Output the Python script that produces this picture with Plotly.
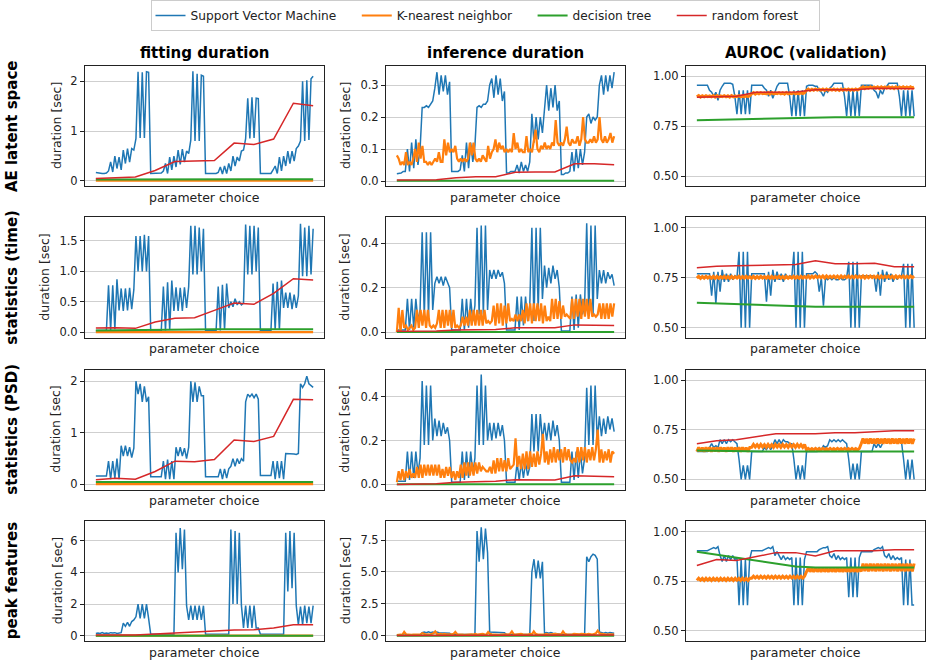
import numpy as np
import plotly.graph_objects as go
from plotly.subplots import make_subplots

# ---------------------------------------------------------------- labels
model_names = ["Support Vector Machine", "K-nearest neighbor", "decision tree", "random forest"]
model_colors = ["#1f77b4", "#ff7f0e", "#2ca02c", "#d62728"]
feature_sets = ["AE latent space", "statistics (time)", "statistics (PSD)", "peak features"]
metrics = ["fitting duration", "inference duration", "AUROC (validation)"]
x_label = "parameter choice"
y_label = "duration [sec]"

# ---------------------------------------------------------------- AE latent space
svm_fit_ae = [
    0.17, 0.16, 0.15, 0.15, 0.15, 0.16, 0.2, 0.38, 0.18, 0.5, 0.25, 0.48, 0.22, 0.62, 0.35, 0.65, 0.38, 0.65, 0.62, 0.85, 2.19, 0.86, 2.18, 0.86, 2.19, 2.18,
    0.15, 0.15, 0.15, 0.15, 0.15, 0.16, 0.2, 0.35, 0.15, 0.48, 0.22, 0.5, 0.28, 0.62, 0.33, 0.64, 0.38, 0.6, 0.55, 0.82, 2.2, 0.8, 2.15, 0.8, 2.12, 2.1,
    0.15, 0.15, 0.15, 0.16, 0.15, 0.15, 0.17, 0.28, 0.14, 0.3, 0.15, 0.35, 0.2, 0.5, 0.3, 0.48, 0.4, 0.6, 0.62, 0.85, 1.66, 0.85, 1.68, 0.86, 1.66, 1.65,
    0.15, 0.15, 0.15, 0.15, 0.16, 0.15, 0.22, 0.3, 0.15, 0.48, 0.2, 0.5, 0.3, 0.6, 0.35, 0.6, 0.4, 0.65, 0.7, 0.8, 2.0, 0.8, 2.02, 0.82, 2.05, 2.1,
]
knn_fit_ae = [0.004, 0.005, 0.004, 0.006, 0.005, 0.004, 0.005, 0.006, 0.004, 0.005,
              0.005, 0.006, 0.004, 0.005, 0.006, 0.005, 0.004, 0.006, 0.005, 0.005,
              0.006, 0.005, 0.004, 0.006, 0.005, 0.006, 0.005, 0.004, 0.006, 0.005]
dt_fit_ae = [0.03, 0.03, 0.031, 0.031, 0.032, 0.032, 0.032, 0.033, 0.033, 0.033, 0.033, 0.033]
rf_fit_ae = [0.05, 0.07, 0.08, 0.21, 0.39, 0.40, 0.41, 0.76, 0.73, 0.84, 1.56, 1.51]

svm_inf_ae = [
    0.023, 0.025, 0.025, 0.03, 0.03, 0.1, 0.03, 0.12, 0.04, 0.13, 0.05, 0.1, 0.23, 0.23, 0.235, 0.23, 0.24, 0.25, 0.29, 0.34, 0.27, 0.33, 0.28, 0.33, 0.27, 0.31,
    0.03, 0.03, 0.03, 0.03, 0.035, 0.08, 0.03, 0.12, 0.04, 0.12, 0.06, 0.11, 0.23, 0.235, 0.23, 0.24, 0.24, 0.25, 0.3, 0.32, 0.26, 0.33, 0.27, 0.32, 0.25, 0.28,
    0.025, 0.025, 0.03, 0.03, 0.03, 0.05, 0.025, 0.06, 0.03, 0.05, 0.03, 0.06, 0.21, 0.12, 0.2, 0.13, 0.2, 0.15, 0.22, 0.3, 0.22, 0.29, 0.23, 0.3, 0.22, 0.25,
    0.02, 0.02, 0.025, 0.025, 0.03, 0.09, 0.03, 0.1, 0.04, 0.1, 0.05, 0.09, 0.2, 0.21, 0.18, 0.2, 0.19, 0.2, 0.3, 0.33, 0.27, 0.33, 0.28, 0.33, 0.29, 0.34,
]
knn_inf_ae = [
    0.08, 0.07, 0.05, 0.06, 0.05, 0.09, 0.05, 0.06, 0.05, 0.07,
    0.1, 0.06, 0.12, 0.07, 0.11, 0.06, 0.06, 0.05, 0.06, 0.05,
    0.06, 0.07, 0.06, 0.09, 0.06, 0.06, 0.13, 0.08, 0.12, 0.09,
    0.1, 0.09, 0.11, 0.07, 0.06, 0.07, 0.06, 0.07, 0.06, 0.07,
    0.12, 0.08, 0.12, 0.07, 0.06, 0.07, 0.06, 0.08, 0.07, 0.06,
    0.11, 0.07, 0.09, 0.1, 0.13, 0.09, 0.12, 0.1, 0.11, 0.09,
    0.1, 0.09, 0.1, 0.09, 0.15, 0.1, 0.12, 0.09, 0.1, 0.09,
    0.09, 0.14, 0.09, 0.1, 0.09, 0.12, 0.16, 0.1, 0.09, 0.11,
    0.1, 0.12, 0.1, 0.11, 0.1, 0.12, 0.11, 0.19, 0.12, 0.11,
    0.12, 0.11, 0.13, 0.17, 0.12, 0.11, 0.13, 0.12, 0.12, 0.14,
    0.11, 0.13, 0.2, 0.13, 0.12, 0.12, 0.13, 0.12, 0.14, 0.12,
    0.13, 0.2, 0.13, 0.12, 0.14, 0.12, 0.13, 0.15, 0.12, 0.14,
]
dt_inf_ae = [0.001, 0.001, 0.001, 0.001, 0.001, 0.001, 0.001, 0.001, 0.001, 0.001, 0.001, 0.001]
rf_inf_ae = [0.003, 0.003, 0.004, 0.01, 0.013, 0.013, 0.027, 0.028, 0.028, 0.054, 0.054, 0.051]

svm_auc_ae = [
    0.955, 0.955, 0.955, 0.955, 0.955, 0.955, 0.93, 0.92, 0.9, 0.92, 0.88, 0.93, 0.95, 0.965, 0.965, 0.965, 0.965, 0.96, 0.9, 0.81, 0.93, 0.81, 0.93, 0.81, 0.93, 0.81,
    0.955, 0.955, 0.955, 0.955, 0.955, 0.955, 0.94, 0.93, 0.9, 0.93, 0.89, 0.92, 0.95, 0.965, 0.965, 0.965, 0.965, 0.965, 0.9, 0.8, 0.93, 0.8, 0.93, 0.8, 0.93, 0.8,
    0.95, 0.955, 0.955, 0.955, 0.95, 0.95, 0.93, 0.92, 0.9, 0.93, 0.92, 0.94, 0.95, 0.965, 0.965, 0.965, 0.965, 0.965, 0.9, 0.8, 0.93, 0.8, 0.93, 0.8, 0.93, 0.8,
    0.955, 0.955, 0.955, 0.955, 0.955, 0.955, 0.93, 0.92, 0.89, 0.93, 0.91, 0.94, 0.95, 0.965, 0.965, 0.965, 0.965, 0.965, 0.9, 0.8, 0.93, 0.8, 0.93, 0.8, 0.93, 0.8,
]
knn_auc_ae = [
    0.897, 0.903, 0.896, 0.902, 0.897, 0.903, 0.898, 0.902, 0.897, 0.903, 0.896, 0.903, 0.897, 0.902, 0.898,
    0.903, 0.897, 0.902, 0.896, 0.903, 0.897, 0.902, 0.898, 0.903, 0.897, 0.902, 0.897, 0.903, 0.898, 0.902,
    0.912, 0.918, 0.911, 0.917, 0.912, 0.918, 0.913, 0.917, 0.912, 0.918, 0.911, 0.918, 0.912, 0.917, 0.913,
    0.918, 0.912, 0.917, 0.911, 0.918, 0.912, 0.917, 0.913, 0.918, 0.912, 0.917, 0.912, 0.918, 0.913, 0.917,
    0.930, 0.936, 0.929, 0.935, 0.930, 0.936, 0.931, 0.935, 0.930, 0.936, 0.929, 0.936, 0.930, 0.935, 0.931,
    0.936, 0.930, 0.935, 0.929, 0.936, 0.930, 0.935, 0.931, 0.936, 0.930, 0.935, 0.930, 0.936, 0.931, 0.935,
    0.940, 0.947, 0.939, 0.946, 0.940, 0.947, 0.941, 0.946, 0.940, 0.947, 0.939, 0.947, 0.940, 0.946, 0.941,
    0.947, 0.940, 0.946, 0.939, 0.947, 0.940, 0.946, 0.941, 0.947, 0.940, 0.946, 0.940, 0.947, 0.941, 0.946,
]
dt_auc_ae = [0.78, 0.782, 0.785, 0.787, 0.79, 0.793, 0.795, 0.795, 0.795, 0.795, 0.795, 0.795]
rf_auc_ae = [0.895, 0.898, 0.9, 0.92, 0.92, 0.921, 0.932, 0.933, 0.932, 0.94, 0.937, 0.937]

# ---------------------------------------------------------------- statistics (time)
svm_fit_time = [
    0.03, 0.03, 0.03, 0.03, 0.03, 0.03, 0.77, 0.04, 0.77, 0.05, 0.87, 0.36, 0.72, 0.35, 0.72, 0.36, 0.73, 0.38, 0.7, 1.58, 1.0, 1.58, 1.0, 1.6, 1.0, 1.58,
    0.02, 0.02, 0.02, 0.02, 0.02, 0.02, 0.75, 0.03, 0.82, 0.04, 0.85, 0.35, 0.74, 0.35, 0.73, 0.35, 0.74, 0.4, 0.75, 1.75, 0.95, 1.75, 0.95, 1.72, 1.0, 1.7,
    0.03, 0.03, 0.03, 0.03, 0.03, 0.03, 0.75, 0.03, 0.78, 0.04, 0.8, 0.4, 0.5, 0.42, 0.55, 0.45, 0.5, 0.45, 0.48, 1.77, 0.95, 1.75, 0.95, 1.75, 1.0, 1.72,
    0.03, 0.03, 0.03, 0.03, 0.03, 0.03, 0.8, 0.04, 0.83, 0.04, 0.85, 0.4, 0.65, 0.4, 0.65, 0.38, 0.62, 0.4, 0.6, 1.78, 0.92, 1.72, 0.92, 1.75, 0.95, 1.7,
]
knn_fit_time = [0.002, 0.003, 0.002, 0.004, 0.003, 0.002, 0.003, 0.004, 0.002, 0.003,
                0.003, 0.004, 0.002, 0.003, 0.004, 0.003, 0.002, 0.004, 0.003, 0.003,
                0.004, 0.003, 0.002, 0.004, 0.003, 0.004, 0.003, 0.002, 0.004, 0.003]
dt_fit_time = [0.03, 0.035, 0.04, 0.045, 0.05, 0.05, 0.05, 0.05, 0.05, 0.05, 0.05, 0.05]
rf_fit_time = [0.07, 0.075, 0.065, 0.17, 0.23, 0.24, 0.36, 0.48, 0.46, 0.64, 0.88, 0.86]

svm_inf_time = [
    0.01, 0.01, 0.01, 0.01, 0.01, 0.15, 0.01, 0.15, 0.02, 0.15, 0.05, 0.1, 0.45, 0.07, 0.45, 0.07, 0.45, 0.1, 0.22, 0.25, 0.22, 0.25, 0.21, 0.25, 0.22, 0.2,
    0.01, 0.01, 0.01, 0.01, 0.01, 0.15, 0.01, 0.15, 0.02, 0.15, 0.05, 0.12, 0.47, 0.08, 0.48, 0.08, 0.48, 0.1, 0.28, 0.24, 0.28, 0.24, 0.28, 0.25, 0.27, 0.22,
    0.01, 0.01, 0.01, 0.01, 0.01, 0.16, 0.01, 0.16, 0.03, 0.16, 0.05, 0.12, 0.47, 0.05, 0.47, 0.1, 0.47, 0.15, 0.3, 0.2, 0.29, 0.22, 0.3, 0.24, 0.28, 0.2,
    0.005, 0.005, 0.005, 0.005, 0.005, 0.16, 0.01, 0.17, 0.02, 0.17, 0.08, 0.12, 0.49, 0.08, 0.48, 0.08, 0.48, 0.15, 0.28, 0.22, 0.28, 0.22, 0.27, 0.24, 0.26, 0.21,
]
knn_inf_time = [
    0.0, 0.11, 0.0, 0.1, 0.02, 0.03, 0.01, 0.02, 0.03, 0.01,
    0.02, 0.1, 0.02, 0.1, 0.03, 0.1, 0.02, 0.1, 0.03, 0.02,
    0.03, 0.02, 0.04, 0.1, 0.02, 0.1, 0.02, 0.1, 0.03, 0.1,
    0.02, 0.1, 0.02, 0.03, 0.02, 0.03, 0.07, 0.03, 0.07, 0.03,
    0.1, 0.03, 0.1, 0.03, 0.1, 0.03, 0.1, 0.03, 0.1, 0.04,
    0.05, 0.04, 0.05, 0.12, 0.03, 0.13, 0.04, 0.13, 0.03, 0.12,
    0.04, 0.13, 0.05, 0.06, 0.05, 0.08, 0.05, 0.08, 0.05, 0.1,
    0.04, 0.13, 0.05, 0.13, 0.04, 0.13, 0.05, 0.13, 0.05, 0.13,
    0.04, 0.12, 0.05, 0.07, 0.05, 0.15, 0.06, 0.15, 0.06, 0.14,
    0.06, 0.12, 0.07, 0.08, 0.07, 0.06, 0.15, 0.06, 0.15, 0.07,
    0.15, 0.06, 0.15, 0.07, 0.15, 0.06, 0.15, 0.07, 0.08, 0.07,
    0.08, 0.13, 0.06, 0.13, 0.06, 0.13, 0.06, 0.13, 0.07, 0.13,
]
dt_inf_time = [0.001, 0.001, 0.001, 0.001, 0.001, 0.001, 0.001, 0.001, 0.001, 0.001, 0.001, 0.001]
rf_inf_time = [0.004, 0.005, 0.005, 0.01, 0.012, 0.012, 0.02, 0.02, 0.02, 0.033, 0.032, 0.03]

svm_auc_time = [
    0.77, 0.77, 0.77, 0.77, 0.77, 0.77, 0.77, 0.66, 0.78, 0.62, 0.78, 0.68, 0.79, 0.73, 0.77, 0.73, 0.77, 0.74, 0.76, 0.75, 0.88, 0.5, 0.88, 0.5, 0.88, 0.5,
    0.77, 0.77, 0.77, 0.77, 0.77, 0.77, 0.77, 0.63, 0.78, 0.66, 0.79, 0.73, 0.78, 0.74, 0.77, 0.73, 0.77, 0.75, 0.76, 0.75, 0.88, 0.5, 0.88, 0.5, 0.88, 0.5,
    0.77, 0.77, 0.77, 0.77, 0.78, 0.77, 0.68, 0.75, 0.61, 0.75, 0.74, 0.75, 0.74, 0.75, 0.74, 0.74, 0.75, 0.74, 0.74, 0.75, 0.83, 0.5, 0.83, 0.5, 0.83, 0.5,
    0.76, 0.76, 0.76, 0.76, 0.76, 0.76, 0.76, 0.68, 0.78, 0.66, 0.79, 0.73, 0.78, 0.74, 0.77, 0.73, 0.76, 0.74, 0.76, 0.76, 0.82, 0.5, 0.82, 0.5, 0.82, 0.5,
]
knn_auc_time = [
    0.748, 0.757, 0.747, 0.756, 0.748, 0.757, 0.749, 0.756, 0.748, 0.757, 0.747, 0.757, 0.748, 0.756, 0.749,
    0.757, 0.748, 0.756, 0.747, 0.757, 0.748, 0.756, 0.749, 0.757, 0.748, 0.756, 0.748, 0.757, 0.749, 0.756,
    0.748, 0.757, 0.747, 0.756, 0.748, 0.757, 0.749, 0.756, 0.748, 0.757, 0.747, 0.757, 0.748, 0.756, 0.749,
    0.757, 0.748, 0.756, 0.747, 0.757, 0.748, 0.756, 0.749, 0.757, 0.748, 0.756, 0.748, 0.757, 0.749, 0.756,
    0.750, 0.759, 0.749, 0.758, 0.750, 0.759, 0.751, 0.758, 0.750, 0.759, 0.749, 0.759, 0.750, 0.758, 0.751,
    0.759, 0.750, 0.758, 0.749, 0.759, 0.750, 0.758, 0.751, 0.759, 0.750, 0.758, 0.750, 0.759, 0.751, 0.758,
    0.750, 0.759, 0.749, 0.758, 0.750, 0.759, 0.751, 0.758, 0.750, 0.759, 0.749, 0.759, 0.750, 0.758, 0.751,
    0.759, 0.750, 0.758, 0.749, 0.759, 0.750, 0.758, 0.751, 0.759, 0.750, 0.758, 0.750, 0.759, 0.751, 0.758,
]
dt_auc_time = [0.625, 0.622, 0.618, 0.615, 0.61, 0.607, 0.605, 0.605, 0.605, 0.605, 0.605, 0.605]
rf_auc_time = [0.8, 0.808, 0.81, 0.813, 0.815, 0.816, 0.835, 0.82, 0.82, 0.823, 0.805, 0.805]

# ---------------------------------------------------------------- statistics (PSD)
svm_fit_psd = [
    0.16, 0.16, 0.16, 0.16, 0.16, 0.16, 0.45, 0.1, 0.45, 0.12, 0.5, 0.1, 0.75, 0.55, 0.75, 0.55, 0.72, 0.52, 0.7, 2.0, 1.75, 1.95, 1.6, 1.9, 1.6, 1.7,
    0.15, 0.15, 0.15, 0.15, 0.15, 0.15, 0.45, 0.1, 0.48, 0.1, 0.45, 0.1, 0.72, 0.55, 0.72, 0.55, 0.7, 0.5, 0.72, 2.0, 1.6, 1.98, 1.6, 1.9, 1.72, 1.72,
    0.15, 0.15, 0.15, 0.15, 0.15, 0.15, 0.15, 0.3, 0.1, 0.3, 0.12, 0.3, 0.35, 0.5, 0.35, 0.5, 0.4, 0.5, 0.45, 1.6, 1.75, 1.7, 1.75, 1.68, 1.75, 1.65,
    0.17, 0.17, 0.17, 0.17, 0.17, 0.17, 0.45, 0.1, 0.45, 0.12, 0.45, 0.1, 0.6, 0.6, 0.6, 0.6, 0.59, 0.58, 0.6, 1.95, 1.88, 1.95, 2.1, 1.95, 1.92, 1.88,
]
knn_fit_psd = [0.003, 0.004, 0.003, 0.005, 0.004, 0.003, 0.004, 0.005, 0.003, 0.004,
               0.004, 0.005, 0.003, 0.004, 0.005, 0.004, 0.003, 0.005, 0.004, 0.004,
               0.005, 0.004, 0.003, 0.005, 0.004, 0.005, 0.004, 0.003, 0.005, 0.004]
dt_fit_psd = [0.045, 0.045, 0.046, 0.046, 0.046, 0.047, 0.047, 0.047, 0.047, 0.047, 0.047, 0.047]
rf_fit_psd = [0.09, 0.12, 0.1, 0.25, 0.45, 0.44, 0.48, 0.86, 0.83, 0.93, 1.65, 1.64]

svm_inf_psd = [
    0.015, 0.015, 0.015, 0.015, 0.015, 0.15, 0.02, 0.15, 0.03, 0.15, 0.05, 0.12, 0.47, 0.18, 0.45, 0.18, 0.45, 0.2, 0.3, 0.22, 0.29, 0.22, 0.28, 0.23, 0.26, 0.2,
    0.01, 0.01, 0.01, 0.01, 0.01, 0.15, 0.02, 0.15, 0.03, 0.15, 0.05, 0.12, 0.45, 0.18, 0.5, 0.18, 0.45, 0.2, 0.28, 0.2, 0.28, 0.21, 0.28, 0.22, 0.27, 0.2,
    0.01, 0.01, 0.01, 0.01, 0.01, 0.1, 0.02, 0.1, 0.03, 0.1, 0.04, 0.08, 0.32, 0.15, 0.32, 0.15, 0.32, 0.2, 0.28, 0.2, 0.28, 0.2, 0.29, 0.22, 0.27, 0.2,
    0.01, 0.01, 0.01, 0.01, 0.01, 0.15, 0.02, 0.15, 0.03, 0.15, 0.05, 0.12, 0.44, 0.18, 0.45, 0.18, 0.45, 0.2, 0.31, 0.22, 0.3, 0.23, 0.31, 0.25, 0.3, 0.24,
]
knn_inf_psd = [
    0.01, 0.06, 0.02, 0.07, 0.02, 0.06, 0.03, 0.07, 0.03, 0.05,
    0.03, 0.08, 0.03, 0.09, 0.03, 0.09, 0.04, 0.09, 0.04, 0.09,
    0.04, 0.09, 0.04, 0.09, 0.03, 0.07, 0.03, 0.08, 0.04, 0.08,
    0.03, 0.06, 0.02, 0.06, 0.03, 0.09, 0.03, 0.1, 0.04, 0.1,
    0.04, 0.1, 0.04, 0.1, 0.05, 0.1, 0.06, 0.08, 0.07, 0.06,
    0.06, 0.08, 0.05, 0.11, 0.05, 0.12, 0.06, 0.12, 0.06, 0.11,
    0.06, 0.12, 0.07, 0.08, 0.09, 0.21, 0.08, 0.13, 0.07, 0.14,
    0.07, 0.15, 0.07, 0.15, 0.08, 0.14, 0.08, 0.15, 0.09, 0.14,
    0.23, 0.1, 0.15, 0.09, 0.16, 0.1, 0.17, 0.1, 0.16, 0.11,
    0.16, 0.1, 0.17, 0.11, 0.16, 0.11, 0.1, 0.12, 0.1, 0.17,
    0.1, 0.17, 0.11, 0.17, 0.1, 0.16, 0.11, 0.17, 0.11, 0.16,
    0.25, 0.1, 0.16, 0.1, 0.15, 0.11, 0.16, 0.1, 0.15, 0.14,
]
dt_inf_psd = [0.001, 0.001, 0.001, 0.001, 0.001, 0.001, 0.001, 0.001, 0.001, 0.001, 0.001, 0.001]
rf_inf_psd = [0.0, 0.001, 0.003, 0.01, 0.013, 0.015, 0.022, 0.021, 0.02, 0.04, 0.038, 0.035]

svm_auc_psd = [
    0.64, 0.64, 0.64, 0.64, 0.64, 0.64, 0.66, 0.68, 0.66, 0.67, 0.66, 0.7, 0.68, 0.7, 0.68, 0.7, 0.69, 0.7, 0.69, 0.68, 0.6, 0.5, 0.57, 0.5, 0.57, 0.5,
    0.64, 0.64, 0.64, 0.64, 0.64, 0.64, 0.66, 0.65, 0.67, 0.65, 0.67, 0.7, 0.68, 0.7, 0.68, 0.7, 0.69, 0.69, 0.68, 0.68, 0.6, 0.5, 0.57, 0.5, 0.57, 0.5,
    0.64, 0.64, 0.64, 0.64, 0.64, 0.64, 0.66, 0.65, 0.67, 0.66, 0.67, 0.7, 0.69, 0.7, 0.69, 0.7, 0.69, 0.7, 0.69, 0.68, 0.6, 0.5, 0.58, 0.5, 0.58, 0.5,
    0.64, 0.64, 0.64, 0.64, 0.64, 0.64, 0.68, 0.66, 0.68, 0.66, 0.68, 0.7, 0.69, 0.7, 0.68, 0.7, 0.69, 0.7, 0.69, 0.69, 0.6, 0.5, 0.6, 0.5, 0.6, 0.5,
]
knn_auc_psd = [
    0.640, 0.661, 0.641, 0.660, 0.640, 0.662, 0.641, 0.661, 0.640, 0.660, 0.641, 0.662, 0.640, 0.661, 0.641,
    0.660, 0.640, 0.662, 0.641, 0.661, 0.640, 0.660, 0.641, 0.662, 0.640, 0.661, 0.641, 0.660, 0.640, 0.661,
    0.662, 0.676, 0.663, 0.675, 0.662, 0.676, 0.663, 0.675, 0.662, 0.676, 0.663, 0.675, 0.662, 0.676, 0.663,
    0.675, 0.662, 0.676, 0.663, 0.675, 0.662, 0.676, 0.663, 0.675, 0.662, 0.676, 0.663, 0.675, 0.662, 0.676,
    0.648, 0.656, 0.649, 0.655, 0.648, 0.656, 0.649, 0.655, 0.648, 0.656, 0.649, 0.655, 0.648, 0.656, 0.649,
    0.655, 0.648, 0.656, 0.649, 0.655, 0.648, 0.656, 0.649, 0.655, 0.648, 0.656, 0.649, 0.655, 0.648, 0.656,
    0.680, 0.706, 0.681, 0.705, 0.680, 0.706, 0.681, 0.705, 0.680, 0.706, 0.681, 0.705, 0.680, 0.706, 0.681,
    0.705, 0.680, 0.706, 0.681, 0.705, 0.680, 0.706, 0.681, 0.705, 0.680, 0.706, 0.681, 0.705, 0.680, 0.706,
]
dt_auc_psd = [0.645, 0.643, 0.642, 0.641, 0.64, 0.64, 0.64, 0.64, 0.64, 0.64, 0.64, 0.64]
rf_auc_psd = [0.68, 0.695, 0.7, 0.715, 0.73, 0.73, 0.73, 0.735, 0.735, 0.74, 0.745, 0.745]

# ---------------------------------------------------------------- peak features
svm_fit_peak = [
    0.15, 0.18, 0.15, 0.2, 0.15, 0.18, 0.15, 0.2, 0.18, 0.2, 0.15, 0.2, 0.2, 0.8, 0.6, 0.85, 0.6, 0.9, 1.0, 1.2, 2.0, 1.1, 2.0, 1.1, 2.0, 1.1,
    0.1, 0.1, 0.1, 0.1, 0.1, 0.1, 0.1, 0.1, 0.1, 0.1, 0.1, 0.1, 6.5, 4.0, 6.8, 4.2, 6.7, 1.9, 1.0, 1.9, 1.0, 1.9, 1.0, 1.9, 1.0, 1.9,
    0.1, 0.1, 0.1, 0.1, 0.1, 0.1, 0.1, 0.1, 0.1, 0.1, 0.1, 0.1, 6.7, 2.0, 6.6, 2.0, 6.5, 1.9, 0.5, 1.9, 0.5, 1.9, 0.5, 1.9, 0.5, 0.5,
    0.1, 0.1, 0.1, 0.1, 0.1, 0.1, 0.1, 0.1, 0.1, 0.1, 0.1, 0.1, 6.5, 2.8, 6.6, 3.0, 6.5, 1.9, 0.7, 1.85, 0.7, 1.9, 0.8, 1.85, 0.8, 1.9,
]
knn_fit_peak = [0.01, 0.012, 0.01, 0.013, 0.011, 0.01, 0.012, 0.013, 0.01, 0.011,
                0.012, 0.013, 0.01, 0.011, 0.013, 0.012, 0.01, 0.013, 0.011, 0.012,
                0.013, 0.011, 0.01, 0.013, 0.012, 0.013, 0.011, 0.01, 0.013, 0.012]
dt_fit_peak = [0.01, 0.01, 0.01, 0.01, 0.01, 0.01, 0.01, 0.01, 0.01, 0.01, 0.01, 0.01]
rf_fit_peak = [0.05, 0.05, 0.05, 0.12, 0.18, 0.2, 0.3, 0.37, 0.38, 0.5, 0.7, 0.7]

svm_inf_peak = [
    0.05, 0.05, 0.05, 0.05, 0.05, 0.05, 0.05, 0.05, 0.05, 0.05, 0.05, 0.05, 0.25, 0.3, 0.25, 0.32, 0.25, 0.3, 0.25, 0.3, 0.25, 0.25, 0.2, 0.25, 0.2, 0.2,
    0.1, 0.1, 0.1, 0.1, 0.1, 0.1, 0.1, 0.1, 0.1, 0.1, 0.1, 0.1, 8.2, 5.8, 8.5, 6.0, 8.4, 6.5, 0.3, 0.3, 0.25, 0.3, 0.25, 0.3, 0.25, 0.25,
    0.1, 0.1, 0.1, 0.1, 0.1, 0.1, 0.1, 0.1, 0.1, 0.1, 0.1, 0.1, 5.0, 6.0, 4.5, 5.9, 4.5, 5.8, 0.2, 0.25, 0.2, 0.25, 0.2, 0.2, 0.15, 0.15,
    0.1, 0.1, 0.1, 0.1, 0.1, 0.1, 0.1, 0.1, 0.1, 0.1, 0.1, 0.1, 6.2, 5.8, 6.2, 6.4, 6.3, 6.0, 0.3, 0.25, 0.2, 0.25, 0.2, 0.25, 0.2, 0.2,
]
knn_inf_peak = [
    0.05, 0.08, 0.1, 0.08, 0.3, 0.12, 0.1, 0.12, 0.08, 0.1,
    0.1, 0.12, 0.15, 0.12, 0.2, 0.15, 0.1, 0.12, 0.1, 0.15,
    0.2, 0.35, 0.15, 0.12, 0.15, 0.1, 0.15, 0.12, 0.1, 0.12,
    0.12, 0.15, 0.3, 0.12, 0.1, 0.12, 0.1, 0.08, 0.1, 0.12,
    0.1, 0.12, 0.1, 0.15, 0.1, 0.12, 0.1, 0.15, 0.12, 0.1,
    0.3, 0.15, 0.12, 0.1, 0.12, 0.1, 0.08, 0.1, 0.12, 0.1,
    0.12, 0.1, 0.15, 0.35, 0.12, 0.1, 0.12, 0.1, 0.15, 0.12,
    0.1, 0.12, 0.1, 0.15, 0.12, 0.35, 0.15, 0.12, 0.1, 0.12,
    0.1, 0.12, 0.15, 0.1, 0.12, 0.1, 0.12, 0.15, 0.12, 0.1,
    0.12, 0.35, 0.15, 0.12, 0.1, 0.12, 0.1, 0.15, 0.12, 0.1,
    0.12, 0.15, 0.12, 0.1, 0.12, 0.15, 0.12, 0.1, 0.15, 0.2,
    0.4, 0.2, 0.15, 0.12, 0.15, 0.1, 0.12, 0.15, 0.12, 0.1,
]
dt_inf_peak = [0.01, 0.01, 0.01, 0.01, 0.01, 0.01, 0.01, 0.01, 0.01, 0.01, 0.01, 0.01]
rf_inf_peak = [0.02, 0.02, 0.02, 0.03, 0.03, 0.03, 0.04, 0.05, 0.05, 0.06, 0.07, 0.07]

svm_auc_peak = [
    0.905, 0.905, 0.905, 0.905, 0.905, 0.905, 0.91, 0.915, 0.92, 0.915, 0.925, 0.88, 0.85, 0.88, 0.85, 0.88, 0.86, 0.88, 0.86, 0.87, 0.63, 0.86, 0.63, 0.86, 0.63, 0.86,
    0.905, 0.905, 0.905, 0.905, 0.905, 0.905, 0.91, 0.915, 0.92, 0.915, 0.925, 0.88, 0.9, 0.88, 0.86, 0.88, 0.86, 0.87, 0.86, 0.87, 0.63, 0.87, 0.63, 0.87, 0.63, 0.86,
    0.9, 0.9, 0.9, 0.9, 0.9, 0.9, 0.91, 0.915, 0.92, 0.92, 0.925, 0.88, 0.87, 0.89, 0.86, 0.88, 0.86, 0.87, 0.86, 0.87, 0.67, 0.87, 0.67, 0.87, 0.67, 0.87,
    0.9, 0.9, 0.9, 0.9, 0.9, 0.9, 0.91, 0.915, 0.92, 0.915, 0.925, 0.88, 0.87, 0.89, 0.86, 0.88, 0.86, 0.87, 0.86, 0.87, 0.63, 0.86, 0.63, 0.86, 0.63, 0.63,
]
knn_auc_peak = [
    0.755, 0.766, 0.756, 0.765, 0.755, 0.766, 0.756, 0.765, 0.755, 0.766, 0.756, 0.765, 0.755, 0.766, 0.756,
    0.765, 0.755, 0.766, 0.756, 0.765, 0.755, 0.766, 0.756, 0.765, 0.755, 0.766, 0.756, 0.765, 0.755, 0.766,
    0.766, 0.776, 0.767, 0.775, 0.766, 0.776, 0.767, 0.775, 0.766, 0.776, 0.767, 0.775, 0.766, 0.776, 0.767,
    0.775, 0.766, 0.776, 0.767, 0.775, 0.766, 0.776, 0.767, 0.775, 0.766, 0.776, 0.767, 0.775, 0.766, 0.776,
    0.798, 0.816, 0.799, 0.815, 0.798, 0.816, 0.799, 0.815, 0.798, 0.816, 0.799, 0.815, 0.798, 0.816, 0.799,
    0.815, 0.798, 0.816, 0.799, 0.815, 0.798, 0.816, 0.799, 0.815, 0.798, 0.816, 0.799, 0.815, 0.798, 0.816,
    0.800, 0.840, 0.801, 0.839, 0.800, 0.840, 0.801, 0.839, 0.800, 0.840, 0.801, 0.839, 0.800, 0.840, 0.801,
    0.839, 0.800, 0.840, 0.801, 0.839, 0.800, 0.840, 0.801, 0.839, 0.800, 0.840, 0.801, 0.839, 0.800, 0.840,
]
dt_auc_peak = [0.9, 0.885, 0.87, 0.855, 0.84, 0.825, 0.82, 0.82, 0.82, 0.82, 0.82, 0.82]
rf_auc_peak = [0.83, 0.86, 0.855, 0.875, 0.895, 0.895, 0.878, 0.905, 0.905, 0.905, 0.91, 0.91]

# ---------------------------------------------------------------- y tick values per panel
ticks_fit = [[0, 1, 2], [0.0, 0.5, 1.0, 1.5], [0, 1, 2], [0, 2, 4, 6]]
ticks_inf = [[0.0, 0.1, 0.2, 0.3], [0.0, 0.2, 0.4], [0.0, 0.2, 0.4], [0.0, 2.5, 5.0, 7.5]]
ticks_auc = [0.50, 0.75, 1.00]

# ---------------------------------------------------------------- assemble panels
panel_data = {
    (1, 1): (svm_fit_ae, knn_fit_ae, dt_fit_ae, rf_fit_ae),
    (1, 2): (svm_inf_ae, knn_inf_ae, dt_inf_ae, rf_inf_ae),
    (1, 3): (svm_auc_ae, knn_auc_ae, dt_auc_ae, rf_auc_ae),
    (2, 1): (svm_fit_time, knn_fit_time, dt_fit_time, rf_fit_time),
    (2, 2): (svm_inf_time, knn_inf_time, dt_inf_time, rf_inf_time),
    (2, 3): (svm_auc_time, knn_auc_time, dt_auc_time, rf_auc_time),
    (3, 1): (svm_fit_psd, knn_fit_psd, dt_fit_psd, rf_fit_psd),
    (3, 2): (svm_inf_psd, knn_inf_psd, dt_inf_psd, rf_inf_psd),
    (3, 3): (svm_auc_psd, knn_auc_psd, dt_auc_psd, rf_auc_psd),
    (4, 1): (svm_fit_peak, knn_fit_peak, dt_fit_peak, rf_fit_peak),
    (4, 2): (svm_inf_peak, knn_inf_peak, dt_inf_peak, rf_inf_peak),
    (4, 3): (svm_auc_peak, knn_auc_peak, dt_auc_peak, rf_auc_peak),
}

y_ranges = {
    (1, 1): [-0.11, 2.31], (1, 2): [-0.017, 0.36], (1, 3): [0.4485, 1.0525],
    (2, 1): [-0.093, 1.887], (2, 2): [-0.026, 0.517], (2, 3): [0.4485, 1.0525],
    (3, 1): [-0.10, 2.22], (3, 2): [-0.023, 0.521], (3, 3): [0.4485, 1.0525],
    (4, 1): [-0.33, 7.21], (4, 2): [-0.41, 8.96], (4, 3): [0.4485, 1.0525],
}

W, H = 929, 667
FONT = "DejaVu Sans"
col_px = [(85, 324), (386, 625), (686, 925)]
row_px = [(66, 187), (218, 339), (371, 491), (523, 643)]
ytitle_px = {(1, 1): 56, (2, 1): 45, (3, 1): 56, (4, 1): 57,
             (1, 2): 345, (2, 2): 345, (3, 2): 345, (4, 2): 345}
line_widths = [1.5, 2.2, 2.0, 1.5]
knn_auc_width = 3.0
legend_pad = "\u00a0\u00a0\u00a0\u00a0"

fig = make_subplots(rows=4, cols=3)

for (r, c), series in panel_data.items():
    for k, vals in enumerate(series):
        xs = np.linspace(0.0, 1.0, len(vals))
        lw = knn_auc_width if (k == 1 and c == 3) else line_widths[k]
        fig.add_trace(
            go.Scatter(
                x=xs, y=vals, mode="lines",
                line=dict(color=model_colors[k], width=lw),
                name=model_names[k] + legend_pad, legendgroup=model_names[k],
                showlegend=(r == 1 and c == 1),
                hoverinfo="skip",
            ),
            row=r, col=c,
        )

    x0, x1 = col_px[c - 1]
    y0, y1 = row_px[r - 1]
    fig.update_xaxes(
        row=r, col=c, domain=[x0 / W, x1 / W], range=[-0.05, 1.05],
        showticklabels=False, ticks="", showgrid=False, zeroline=False,
        showline=True, mirror=True, linecolor="#222222", linewidth=1,
    )
    if c == 1:
        tv, fmt = ticks_fit[r - 1], (".1f" if r == 2 else "d")
    elif c == 2:
        tv, fmt = ticks_inf[r - 1], ".1f"
    else:
        tv, fmt = ticks_auc, ".2f"
    fig.update_yaxes(
        row=r, col=c, domain=[1 - y1 / H, 1 - y0 / H], range=y_ranges[(r, c)],
        tickvals=tv, tickformat=fmt, ticks="outside", ticklen=4, tickwidth=1,
        tickcolor="#222222", tickfont=dict(family=FONT, size=11.5, color="#222222"),
        showgrid=True, gridcolor="#cfcfcf", gridwidth=1, zeroline=False,
        showline=True, mirror=True, linecolor="#222222", linewidth=1,
    )

annotations = []
# column titles
for c, title in enumerate(metrics):
    x0, x1 = col_px[c]
    annotations.append(dict(
        text=f"<b>{title}</b>", x=(x0 + x1) / 2 / W, y=1 - 53 / H, xref="paper", yref="paper",
        xanchor="center", yanchor="middle", showarrow=False,
        font=dict(family=FONT, size=15, color="black"),
    ))
# row labels
for r, label in enumerate(feature_sets):
    y0, y1 = row_px[r]
    annotations.append(dict(
        text=f"<b>{label}</b>", x=12 / W, y=1 - (y0 + y1) / 2 / H, xref="paper", yref="paper",
        xanchor="center", yanchor="middle", textangle=-90, showarrow=False,
        font=dict(family=FONT, size=15, color="black"),
    ))
# axis titles
for r in range(1, 5):
    y0, y1 = row_px[r - 1]
    for c in range(1, 4):
        x0, x1 = col_px[c - 1]
        annotations.append(dict(
            text=x_label, x=(x0 + x1) / 2 / W, y=1 - (y1 + 11) / H, xref="paper", yref="paper",
            xanchor="center", yanchor="middle", showarrow=False,
            font=dict(family=FONT, size=12.5, color="#222222"),
        ))
        if c < 3:
            annotations.append(dict(
                text=y_label, x=ytitle_px[(r, c)] / W, y=1 - (y0 + y1) / 2 / H,
                xref="paper", yref="paper", xanchor="center", yanchor="middle",
                textangle=-90, showarrow=False,
                font=dict(family=FONT, size=12.5, color="#222222"),
            ))

fig.update_layout(
    width=W, height=H,
    margin=dict(l=0, r=0, t=0, b=0),
    paper_bgcolor="white", plot_bgcolor="white",
    font=dict(family=FONT, size=12, color="#222222"),
    annotations=annotations,
    showlegend=True,
    legend=dict(
        orientation="h", x=485 / W, xanchor="center", y=1.0, yanchor="top",
        bgcolor="white", bordercolor="#cccccc", borderwidth=1,
        font=dict(family=FONT, size=12.2, color="#222222"),
        itemwidth=30,
    ),
)

fig.write_html("out.html")
